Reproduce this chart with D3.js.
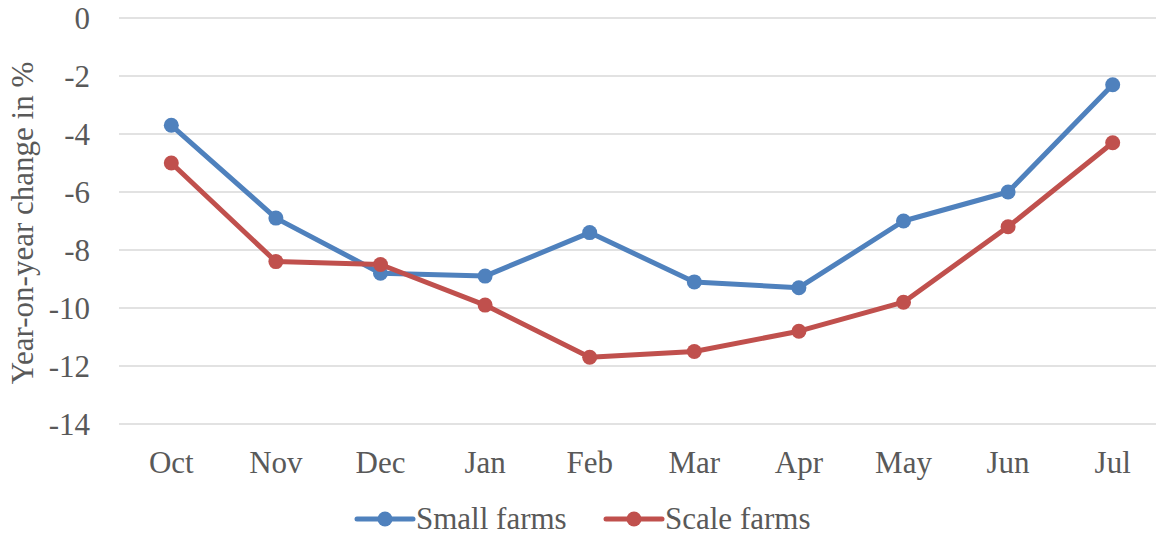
<!DOCTYPE html>
<html>
<head>
<meta charset="utf-8">
<script src="https://cdn.jsdelivr.net/npm/d3@7"></script>
<style>
  body { margin: 0; background: #fff; }
  text { font-family: "Liberation Serif", "Times New Roman", serif; fill: #595959; }
</style>
</head>
<body>
<div id="chart"></div>
<script>
const months = ["Oct", "Nov", "Dec", "Jan", "Feb", "Mar", "Apr", "May", "Jun", "Jul"];
const smallFarms = [-3.7, -6.9, -8.8, -8.9, -7.4, -9.1, -9.3, -7.0, -6.0, -2.3];
const scaleFarms = [-5.0, -8.4, -8.5, -9.9, -11.7, -11.5, -10.8, -9.8, -7.2, -4.3];
const yTicks = [0, -2, -4, -6, -8, -10, -12, -14];

const series = [
  { name: "Small farms", values: smallFarms, color: "#4F81BD" },
  { name: "Scale farms", values: scaleFarms, color: "#C0504D" }
];

const width = 1156;
const height = 537;
const margin = { top: 18, left: 119, right: -9, bottom: 113 };
const fontSize = "31px";

const svg = d3.select("#chart")
  .append("svg")
  .attr("width", width)
  .attr("height", height);

const x = d3.scaleBand()
  .domain(months)
  .range([margin.left, width - margin.right]);

const y = d3.scaleLinear()
  .domain([-14, 0])
  .range([height - margin.bottom, margin.top]);

// gridlines
svg.append("g")
  .selectAll("line")
  .data(yTicks)
  .join("line")
  .attr("x1", margin.left)
  .attr("x2", width - margin.right)
  .attr("y1", d => y(d))
  .attr("y2", d => y(d))
  .attr("stroke", "#d9d9d9")
  .attr("stroke-width", 1.5);

// y tick labels
svg.append("g")
  .selectAll("text")
  .data(yTicks)
  .join("text")
  .attr("x", 90)
  .attr("y", d => y(d))
  .attr("dy", "0.35em")
  .attr("text-anchor", "end")
  .style("font-size", fontSize)
  .text(d => d);

// x labels
svg.append("g")
  .selectAll("text")
  .data(months)
  .join("text")
  .attr("x", d => x(d) + x.bandwidth() / 2)
  .attr("y", 462)
  .attr("dy", "0.35em")
  .attr("text-anchor", "middle")
  .style("font-size", fontSize)
  .text(d => d);

// y axis title
svg.append("text")
  .attr("transform", `translate(22, ${(margin.top + height - margin.bottom) / 2 + 2}) rotate(-90)`)
  .attr("dy", "0.35em")
  .attr("text-anchor", "middle")
  .style("font-size", fontSize)
  .text("Year-on-year change in %");

const line = d3.line()
  .x((d, i) => x(months[i]) + x.bandwidth() / 2)
  .y(d => y(d));

series.forEach(s => {
  const g = svg.append("g");
  g.append("path")
    .datum(s.values)
    .attr("fill", "none")
    .attr("stroke", s.color)
    .attr("stroke-width", 5)
    .attr("stroke-linejoin", "round")
    .attr("d", line);
  g.selectAll("circle")
    .data(s.values)
    .join("circle")
    .attr("cx", (d, i) => x(months[i]) + x.bandwidth() / 2)
    .attr("cy", d => y(d))
    .attr("r", 7.5)
    .attr("fill", s.color);
});

// legend
const legendX = [357, 606];
const legend = svg.append("g")
  .selectAll("g")
  .data(series)
  .join("g")
  .attr("transform", (d, i) => `translate(${legendX[i]}, 519)`);

legend.append("line")
  .attr("x1", 0)
  .attr("x2", 56)
  .attr("stroke", d => d.color)
  .attr("stroke-width", 5)
  .attr("stroke-linecap", "round");

legend.append("circle")
  .attr("cx", 28)
  .attr("r", 7.5)
  .attr("fill", d => d.color);

legend.append("text")
  .attr("x", 59)
  .attr("dy", "0.33em")
  .style("font-size", fontSize)
  .text(d => d.name);
</script>
</body>
</html>
